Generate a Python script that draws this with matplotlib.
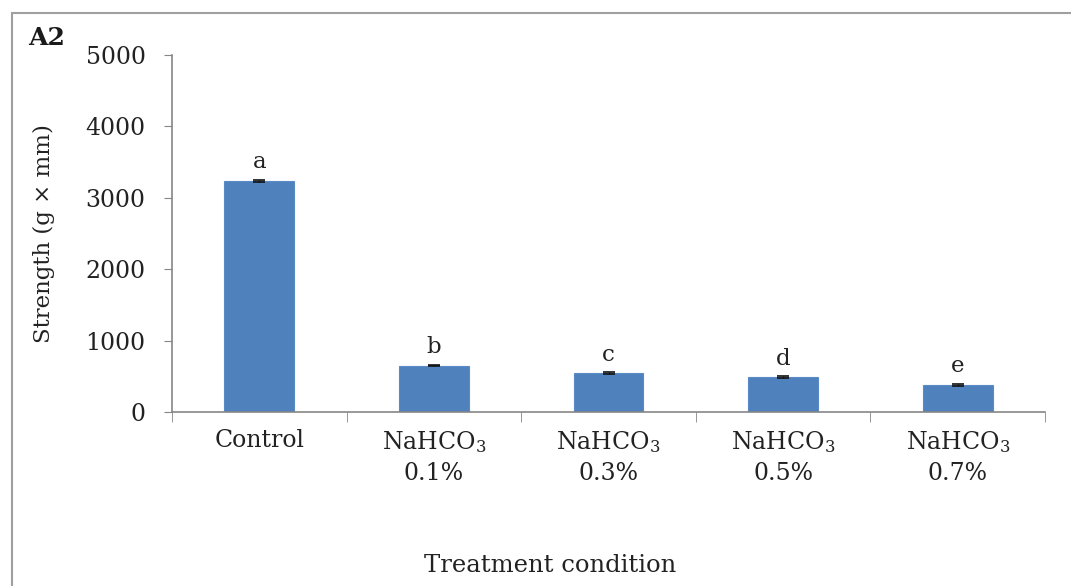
import matplotlib
matplotlib.use("Agg")
import matplotlib.pyplot as plt
from matplotlib.patches import Rectangle
from matplotlib.ticker import FixedLocator, NullFormatter

categories = ["Control", "NaHCO$_3$\n0.1%", "NaHCO$_3$\n0.3%", "NaHCO$_3$\n0.5%", "NaHCO$_3$\n0.7%"]
values = [3240, 650, 545, 490, 380]
errors = [12, 12, 12, 12, 15]
letters = ["a", "b", "c", "d", "e"]
yticks = [0, 1000, 2000, 3000, 4000, 5000]

plt.rcParams['font.family'] = ['DejaVu Serif']
plt.rcParams['mathtext.fontset'] = 'dejavuserif'
fig = plt.figure(figsize=(10.71, 5.86), dpi=100)
ax = fig.add_axes([172/1071, 1 - 412/586, (1045-172)/1071, (412-55)/586])

x = list(range(len(categories)))
ax.bar(x, values, width=0.4, color="#4F81BD", edgecolor="#5B8BC6", linewidth=0.8, zorder=2)
ax.errorbar(x, values, yerr=errors, fmt="none", ecolor="#111111", capsize=4, elinewidth=1, capthick=1.2, zorder=3)
for xi, v, e, l in zip(x, values, errors, letters):
    ax.text(xi, v + e + 90, l, ha="center", va="bottom", fontsize=16.5, color="#222222")

ax.set_xlim(-0.5, len(categories) - 0.5)
ax.set_ylim(0, 5000)
ax.set_yticks(yticks)
ax.set_yticklabels([str(t) for t in yticks], fontsize=17, color="#222222")
ax.set_xticks(x)
ax.set_xticklabels(categories, fontsize=17, color="#222222", linespacing=1.4)
ax.tick_params(axis="x", length=0, pad=12)
ax.xaxis.set_minor_locator(FixedLocator([i - 0.5 for i in range(len(categories) + 1)]))
ax.xaxis.set_minor_formatter(NullFormatter())
ax.tick_params(axis="x", which="minor", length=7, color="#868686", direction="out")
ax.tick_params(axis="y", length=6, color="#868686", direction="out", pad=13)

for s in ["top", "right"]:
    ax.spines[s].set_visible(False)
for s in ["left", "bottom"]:
    ax.spines[s].set_color("#868686")
    ax.spines[s].set_linewidth(1.2)

ax.set_ylabel("Strength (g × mm)", fontsize=16.5, color="#222222", labelpad=22)
fig.text(550/1071, 1 - 565/586, "Treatment condition", ha="center", va="center", fontsize=17.5, color="#222222")
fig.text(28/1071, 1 - 38/586, "A2", ha="left", va="center", fontsize=18, fontweight="bold", color="#1a1a1a")

fig.patches.append(Rectangle((12/1071, -0.05), 1.2, 1 - 13/586 + 0.05, transform=fig.transFigure,
                             fill=False, edgecolor="#A0A0A0", linewidth=1.5))

fig.savefig("out.png", dpi=100)
